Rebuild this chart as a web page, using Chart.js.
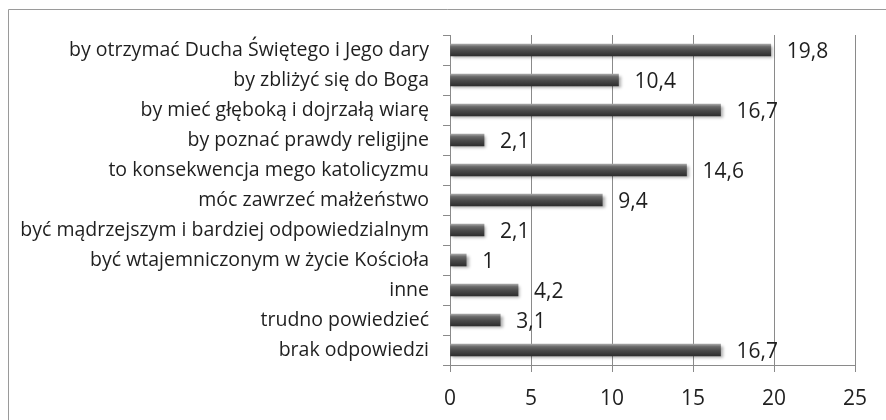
<!DOCTYPE html>
<html>
<head>
<meta charset="utf-8">
<script src="https://cdn.jsdelivr.net/npm/chart.js@4"></script>
<style>
  html, body { margin: 0; padding: 0; background: #fff; }
  #wrap { width: 886px; height: 420px; }
</style>
</head>
<body>
<div id="wrap"><canvas id="chart" width="886" height="420"></canvas></div>
<script>
// dane z wykresu
const categories = [
    'by otrzymać Ducha Świętego i Jego dary',
    'by zbliżyć się do Boga',
    'by mieć głęboką i dojrzałą wiarę',
    'by poznać prawdy religijne',
    'to konsekwencja mego katolicyzmu',
    'móc zawrzeć małżeństwo',
    'być mądrzejszym i bardziej odpowiedzialnym',
    'być wtajemniczonym w życie Kościoła',
    'inne',
    'trudno powiedzieć',
    'brak odpowiedzi'
];
const values = [19.8, 10.4, 16.7, 2.1, 14.6, 9.4, 2.1, 1, 4.2, 3.1, 16.7];
const xTicks = [0, 5, 10, 15, 20, 25];

const FONT = "'Open Sans', sans-serif";
const TEXT = '#1f1f1f';
const GRID = '#8a8a8a';

// gradient "walca" dla każdego słupka
function barGradient(context) {
    const chart = context.chart;
    const yScale = chart.scales.y;
    if (!chart.chartArea || !yScale) return '#4a4a4a';
    const y = yScale.getPixelForValue(context.dataIndex);
    const g = chart.ctx.createLinearGradient(0, y - 6, 0, y + 6);
    g.addColorStop(0, '#a8a8a8');
    g.addColorStop(0.22, '#6a6a6a');
    g.addColorStop(0.55, '#4a4a4a');
    g.addColorStop(1, '#2e2e2e');
    return g;
}

// ramka wokół wykresu (lewa i górna krawędź)
const framePlugin = {
    id: 'frame',
    beforeDraw(chart) {
        const ctx = chart.ctx;
        ctx.save();
        ctx.strokeStyle = '#9a9a9a';
        ctx.lineWidth = 1;
        ctx.beginPath();
        ctx.moveTo(8.5, 420);
        ctx.lineTo(8.5, 9.5);
        ctx.lineTo(886, 9.5);
        ctx.stroke();
        ctx.restore();
    }
};

// cień pod słupkami
const shadowPlugin = {
    id: 'barShadow',
    beforeDatasetsDraw(chart) {
        const ctx = chart.ctx;
        ctx.save();
        ctx.shadowColor = 'rgba(0,0,0,0.35)';
        ctx.shadowBlur = 3;
        ctx.shadowOffsetX = 2;
        ctx.shadowOffsetY = 2;
    },
    afterDatasetsDraw(chart) {
        chart.ctx.restore();
    }
};

// etykiety wartości przy słupkach
const labelPlugin = {
    id: 'valueLabels',
    afterDraw(chart) {
        const ctx = chart.ctx;
        const meta = chart.getDatasetMeta(0);
        ctx.save();
        ctx.font = '21px ' + FONT;
        ctx.fillStyle = TEXT;
        ctx.textAlign = 'left';
        ctx.textBaseline = 'middle';
        meta.data.forEach((bar, i) => {
            const txt = String(values[i]).replace('.', ',');
            ctx.fillText(txt, bar.x + 16, bar.y + 2);
        });
        ctx.restore();
    }
};

new Chart(document.getElementById('chart'), {
    type: 'bar',
    data: {
        labels: categories,
        datasets: [{
            data: values,
            backgroundColor: barGradient,
            borderWidth: 0,
            barThickness: 12
        }]
    },
    options: {
        indexAxis: 'y',
        responsive: false,
        animation: false,
        layout: { padding: { top: 35, right: 31, left: 0, bottom: 0 } },
        plugins: {
            legend: { display: false },
            tooltip: { enabled: false }
        },
        scales: {
            x: {
                min: 0,
                max: 25,
                afterBuildTicks: (scale) => { scale.ticks = xTicks.map(v => ({ value: v })); },
                afterFit: (scale) => { scale.height = 55; },
                grid: { color: GRID, lineWidth: 1, tickLength: 7, drawTicks: true },
                border: { display: true, color: GRID },
                ticks: { color: TEXT, font: { family: FONT, size: 21 }, padding: 14 }
            },
            y: {
                afterFit: (scale) => { scale.width = 450; },
                grid: { drawOnChartArea: false, color: GRID, tickLength: 7, offset: true },
                border: { display: true, color: GRID },
                ticks: { color: TEXT, font: { family: FONT, size: 19.5 }, padding: 14 }
            }
        }
    },
    plugins: [framePlugin, shadowPlugin, labelPlugin]
});
</script>
</body>
</html>
